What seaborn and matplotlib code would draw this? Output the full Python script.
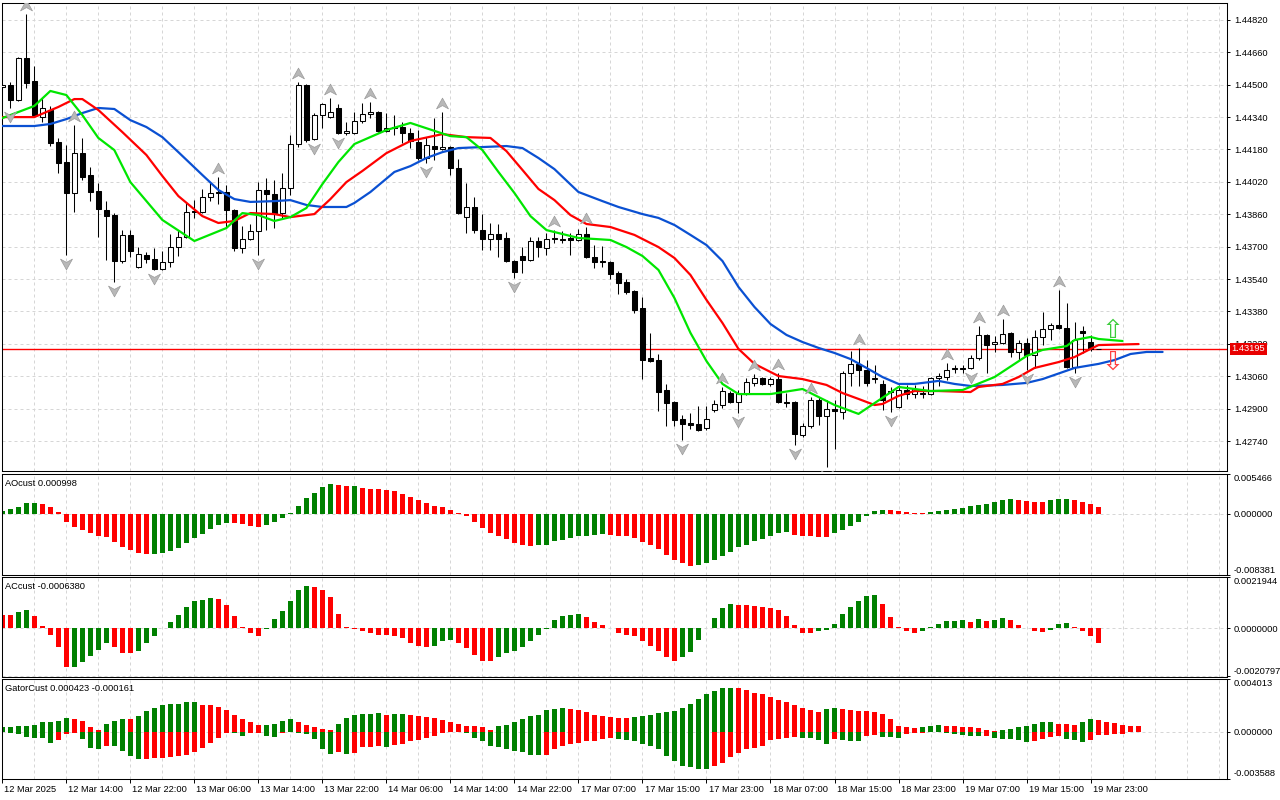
import numpy as np
import pandas as pd
import matplotlib
matplotlib.use("Agg")
import matplotlib.pyplot as plt
import matplotlib.transforms as mtransforms
from matplotlib.path import Path
from matplotlib.ticker import FixedLocator, MultipleLocator
import seaborn as sns

# hourly candles, 12 Mar 2025 06:00 -> 20 Mar 00:00
opens = [1.44488, 1.44498, 1.44424, 1.44632, 1.44518, 1.44340, 1.44375, 1.44217, 1.44118, 1.43965,
         1.44162, 1.44054, 1.43975, 1.43881, 1.43856, 1.43629, 1.43758, 1.43600, 1.43659, 1.43639,
         1.43590, 1.43624, 1.43698, 1.43748, 1.43876, 1.43871, 1.43945, 1.43970, 1.43970, 1.43881,
         1.43693, 1.43738, 1.43777, 1.43980, 1.43960, 1.43866, 1.43990, 1.44207, 1.44498, 1.44232,
         1.44350, 1.44340, 1.44385, 1.44261, 1.44261, 1.44320, 1.44355, 1.44365, 1.44271, 1.44291,
         1.44291, 1.44261, 1.44217, 1.44138, 1.44197, 1.44182, 1.44192, 1.44088, 1.43846, 1.43896,
         1.43782, 1.43738, 1.43763, 1.43743, 1.43629, 1.43654, 1.43634, 1.43728, 1.43693, 1.43743,
         1.43738, 1.43743, 1.43733, 1.43763, 1.43649, 1.43629, 1.43624, 1.43570, 1.43525, 1.43481,
         1.43397, 1.43150, 1.43140, 1.42992, 1.42933, 1.42849, 1.42829, 1.42824, 1.42805, 1.42893,
         1.42918, 1.42977, 1.42933, 1.42972, 1.43027, 1.43051, 1.43022, 1.43046, 1.42933, 1.42933,
         1.42770, 1.42814, 1.42943, 1.42864, 1.42898, 1.42884, 1.43076, 1.43121, 1.43091, 1.43046,
         1.43022, 1.42987, 1.42908, 1.42992, 1.42972, 1.42977, 1.42972, 1.43051, 1.43056, 1.43101,
         1.43101, 1.43101, 1.43150, 1.43264, 1.43219, 1.43224, 1.43274, 1.43180, 1.43224, 1.43165,
         1.43254, 1.43293, 1.43313, 1.43298, 1.43106, 1.43284, 1.43229, 1.43195]
highs = [1.44508, 1.44513, 1.44637, 1.44849, 1.44592, 1.44434, 1.44395, 1.44237, 1.44202, 1.44301,
         1.44237, 1.44093, 1.44014, 1.43925, 1.43866, 1.43782, 1.43782, 1.43698, 1.43674, 1.43693,
         1.43679, 1.43763, 1.43782, 1.43921, 1.43930, 1.43985, 1.44019, 1.44044, 1.44004, 1.43886,
         1.43802, 1.43812, 1.44019, 1.44039, 1.44029, 1.44064, 1.44251, 1.44513, 1.44503, 1.44360,
         1.44409, 1.44434, 1.44404, 1.44316, 1.44365, 1.44409, 1.44414, 1.44370, 1.44360, 1.44350,
         1.44316, 1.44286, 1.44276, 1.44241, 1.44335, 1.44365, 1.44197, 1.44133, 1.44014, 1.43945,
         1.43861, 1.43817, 1.43812, 1.43772, 1.43634, 1.43698, 1.43748, 1.43748, 1.43767, 1.43782,
         1.43777, 1.43767, 1.43787, 1.43797, 1.43708, 1.43703, 1.43629, 1.43580, 1.43540, 1.43486,
         1.43451, 1.43274, 1.43170, 1.43022, 1.42938, 1.42869, 1.42879, 1.42913, 1.42913, 1.42943,
         1.43007, 1.42987, 1.42992, 1.43051, 1.43071, 1.43056, 1.43056, 1.43076, 1.42977, 1.42938,
         1.42829, 1.42958, 1.42958, 1.42943, 1.42943, 1.43086, 1.43185, 1.43200, 1.43140, 1.43116,
         1.43042, 1.43007, 1.43017, 1.43017, 1.43017, 1.43012, 1.43056, 1.43076, 1.43126, 1.43116,
         1.43116, 1.43165, 1.43308, 1.43269, 1.43259, 1.43343, 1.43279, 1.43239, 1.43249, 1.43288,
         1.43377, 1.43323, 1.43486, 1.43422, 1.43328, 1.43308, 1.43264, 1.43195]
lows = [1.44483, 1.44385, 1.44419, 1.44483, 1.44340, 1.44316, 1.44197, 1.44064, 1.43659, 1.43871,
        1.44029, 1.43925, 1.43748, 1.43634, 1.43525, 1.43619, 1.43649, 1.43595, 1.43619, 1.43585,
        1.43585, 1.43600, 1.43654, 1.43743, 1.43842, 1.43866, 1.43925, 1.43911, 1.43797, 1.43679,
        1.43669, 1.43733, 1.43659, 1.43782, 1.43792, 1.43842, 1.43955, 1.44192, 1.44217, 1.44227,
        1.44286, 1.44335, 1.44256, 1.44251, 1.44256, 1.44311, 1.44335, 1.44266, 1.44266, 1.44251,
        1.44212, 1.44187, 1.44128, 1.44113, 1.44128, 1.44177, 1.44054, 1.43861, 1.43767, 1.43767,
        1.43683, 1.43683, 1.43649, 1.43624, 1.43545, 1.43570, 1.43629, 1.43649, 1.43659, 1.43718,
        1.43718, 1.43659, 1.43728, 1.43644, 1.43595, 1.43600, 1.43540, 1.43466, 1.43466, 1.43372,
        1.43046, 1.43130, 1.42888, 1.42814, 1.42814, 1.42745, 1.42800, 1.42790, 1.42795, 1.42884,
        1.42903, 1.42928, 1.42879, 1.42967, 1.43012, 1.43017, 1.43012, 1.42928, 1.42908, 1.42721,
        1.42760, 1.42805, 1.42819, 1.42612, 1.42701, 1.42849, 1.43012, 1.43012, 1.43012, 1.43027,
        1.42893, 1.42884, 1.42903, 1.42948, 1.42953, 1.42953, 1.42967, 1.43012, 1.43042, 1.43076,
        1.43076, 1.43096, 1.43140, 1.43076, 1.43180, 1.43219, 1.43155, 1.43140, 1.43091, 1.43101,
        1.43214, 1.43239, 1.43293, 1.43101, 1.43076, 1.43175, 1.43185, 1.43195]
closes = [1.44498, 1.44424, 1.44632, 1.44508, 1.44350, 1.44385, 1.44212, 1.44113, 1.43965, 1.44162,
          1.44044, 1.43970, 1.43886, 1.43851, 1.43629, 1.43758, 1.43679, 1.43664, 1.43639, 1.43590,
          1.43624, 1.43698, 1.43748, 1.43871, 1.43871, 1.43945, 1.43965, 1.43965, 1.43881, 1.43693,
          1.43738, 1.43777, 1.43980, 1.43960, 1.43866, 1.43990, 1.44207, 1.44498, 1.44227, 1.44350,
          1.44404, 1.44365, 1.44261, 1.44271, 1.44320, 1.44355, 1.44365, 1.44271, 1.44286, 1.44286,
          1.44261, 1.44222, 1.44138, 1.44202, 1.44182, 1.44192, 1.44088, 1.43866, 1.43896, 1.43782,
          1.43738, 1.43763, 1.43738, 1.43629, 1.43575, 1.43634, 1.43728, 1.43698, 1.43738, 1.43738,
          1.43733, 1.43733, 1.43763, 1.43649, 1.43624, 1.43624, 1.43565, 1.43521, 1.43476, 1.43387,
          1.43140, 1.43135, 1.42982, 1.42928, 1.42844, 1.42824, 1.42819, 1.42795, 1.42849, 1.42923,
          1.42987, 1.42933, 1.42977, 1.43032, 1.43051, 1.43022, 1.43046, 1.42933, 1.42928, 1.42775,
          1.42814, 1.42943, 1.42864, 1.42898, 1.42888, 1.43076, 1.43121, 1.43091, 1.43027, 1.43051,
          1.42943, 1.42982, 1.42992, 1.42972, 1.42997, 1.42972, 1.43051, 1.43061, 1.43091, 1.43096,
          1.43096, 1.43150, 1.43264, 1.43214, 1.43229, 1.43269, 1.43180, 1.43224, 1.43165, 1.43254,
          1.43293, 1.43313, 1.43298, 1.43106, 1.43239, 1.43274, 1.43195, 1.43195]
bid = 1.43195

# alligator lines (bar index where read, value)
lips_bar = [0, 4, 6, 8, 10, 12, 14, 16, 20, 24, 28, 30, 32, 34, 36, 38, 40, 42, 44, 48, 51, 56, 58,
            60, 62, 64, 66, 68, 72, 76, 78, 80, 82, 84, 86, 88, 90, 92, 96, 100, 104, 107, 112,
            116, 120, 124, 128, 130, 133, 134, 136, 137, 140]
lips = [1.44335, 1.44395, 1.44469, 1.44449, 1.44350, 1.44237, 1.44177, 1.44019, 1.43832, 1.43728,
        1.43792, 1.43866, 1.43856, 1.43827, 1.43846, 1.43891, 1.44009, 1.44118, 1.44207, 1.44276,
        1.44311, 1.44246, 1.44241, 1.44177, 1.44069, 1.43965, 1.43851, 1.43782, 1.43743, 1.43733,
        1.43698, 1.43654, 1.43585, 1.43446, 1.43274, 1.43135, 1.43022, 1.42972, 1.42972, 1.42997,
        1.42918, 1.42874, 1.43007, 1.42987, 1.42992, 1.43056, 1.43160, 1.43190, 1.43209, 1.43239,
        1.43254, 1.43244, 1.43234]
teeth_bar = [0, 4, 7, 9, 10, 12, 15, 18, 20, 22, 25, 27, 29, 31, 34, 36, 39, 41, 43, 45, 48, 51,
             55, 58, 61, 63, 65, 67, 69, 71, 73, 76, 79, 82, 84, 86, 88, 90, 92, 94, 97, 100, 103,
             105, 107, 109, 110, 112, 114, 117, 121, 122, 125, 127, 129, 132, 134, 136, 137, 142]
teeth = [1.44340, 1.44340, 1.44390, 1.44429, 1.44429, 1.44375, 1.44266, 1.44153, 1.44049, 1.43950,
         1.43851, 1.43817, 1.43827, 1.43866, 1.43861, 1.43846, 1.43861, 1.43935, 1.44019, 1.44074,
         1.44162, 1.44222, 1.44256, 1.44241, 1.44237, 1.44172, 1.44079, 1.43985, 1.43930, 1.43856,
         1.43812, 1.43797, 1.43758, 1.43698, 1.43644, 1.43560, 1.43437, 1.43323, 1.43195, 1.43121,
         1.43061, 1.43046, 1.43017, 1.42977, 1.42948, 1.42918, 1.42923, 1.42963, 1.42987, 1.42987,
         1.42982, 1.43007, 1.43022, 1.43056, 1.43101, 1.43130, 1.43155, 1.43195, 1.43214, 1.43219]
jaw_bar = [0, 4, 6, 8, 10, 12, 14, 16, 18, 20, 22, 25, 27, 29, 31, 34, 36, 38, 40, 43, 44, 46, 49,
           51, 53, 55, 57, 60, 63, 65, 67, 69, 72, 75, 77, 80, 82, 84, 86, 88, 90, 92, 94, 96, 98,
           100, 102, 104, 106, 108, 110, 112, 114, 117, 119, 121, 125, 128, 130, 134, 137, 139,
           141, 143, 145]
jaw = [1.44296, 1.44296, 1.44306, 1.44330, 1.44360, 1.44385, 1.44380, 1.44325, 1.44291, 1.44241,
       1.44167, 1.44054, 1.43980, 1.43935, 1.43921, 1.43925, 1.43930, 1.43906, 1.43896, 1.43896,
       1.43916, 1.43970, 1.44069, 1.44098, 1.44138, 1.44167, 1.44187, 1.44192, 1.44197, 1.44187,
       1.44138, 1.44083, 1.43970, 1.43925, 1.43896, 1.43861, 1.43842, 1.43807, 1.43758, 1.43708,
       1.43629, 1.43501, 1.43402, 1.43318, 1.43264, 1.43229, 1.43200, 1.43175, 1.43145, 1.43101,
       1.43056, 1.43022, 1.43022, 1.43037, 1.43022, 1.43012, 1.43017, 1.43027, 1.43046, 1.43101,
       1.43121, 1.43140, 1.43170, 1.43180, 1.43180]

up_fractals = [3, 9, 27, 37, 41, 46, 55, 69, 73, 90, 94, 97, 101, 107, 118, 122, 125, 132]
down_fractals = [1, 8, 14, 19, 32, 39, 42, 53, 64, 85, 92, 99, 103, 111, 121, 128, 134]

# oscillators, in units of 1e-5
ao_1e5 = [37, 69, 96, 151, 152, 133, 96, 27, -114, -183,
          -215, -260, -306, -320, -384, -452, -489, -535, -548, -544,
          -535, -512, -466, -398, -329, -274, -206, -151, -123, -128,
          -137, -169, -178, -146, -110, -55, 14, 114, 215, 288,
          366, 407, 393, 379, 384, 356, 347, 338, 324, 315,
          274, 229, 187, 151, 105, 91, 59, 14, -32, -114,
          -192, -260, -306, -343, -398, -420, -434, -430, -420, -375,
          -352, -329, -306, -297, -283, -274, -283, -297, -306, -334,
          -379, -420, -480, -558, -626, -676, -708, -704, -676, -631,
          -571, -516, -457, -420, -375, -343, -297, -265, -251, -283,
          -297, -306, -311, -315, -265, -219, -160, -114, -23, 46,
          59, 55, 46, 27, 18, 14, 23, 41, 55, 69,
          87, 105, 128, 142, 165, 187, 197, 187, 178, 169,
          165, 192, 197, 201, 187, 169, 142, 99.8]
ao_colors = ("G" * 5 + "R" * 14 + "G" * 10 + "R" * 4 + "G" * 9 + "R" * 2 + "G" + "R" * 22
             + "G" * 9 + "R" * 11 + "G" * 12 + "R" * 5 + "G" * 7 + "R" * 5 + "G" * 11 + "R" * 4
             + "G" * 3 + "R" * 4)

ac_1e5 = [56, 57, 67, 79, 53, 10, -29, -80, -169, -168,
          -147, -119, -93, -62, -83, -105, -109, -97, -66, -33,
          -1, 27, 57, 92, 115, 122, 130, 126, 100, 53,
          6, -23, -33, -4, 37, 74, 115, 165, 182, 178,
          165, 135, 60, 6, -4, -11, -23, -29, -30, -33,
          -43, -66, -79, -83, -79, -57, -52, -62, -87, -115,
          -140, -143, -126, -105, -100, -80, -57, -29, -4, 36,
          53, 57, 60, 49, 27, 13, -1, -19, -29, -33,
          -57, -76, -97, -126, -140, -126, -102, -50, 1, 44,
          87, 105, 100, 99, 97, 90, 87, 76, 53, 14,
          -19, -23, -14, -10, 19, 62, 92, 115, 139, 140,
          105, 49, 4, -14, -23, -11, 6, 19, 30, 32,
          33, 27, 37, 32, 33, 42, 36, 14, -1, -14,
          -16, -7, 19, 20, 6, -14, -33, -63.8]
ac_colors = ("R" * 2 + "G" * 2 + "R" * 5 + "G" * 5 + "R" * 3 + "G" * 10 + "R" * 6 + "G" * 6
             + "R" * 15 + "G" * 3 + "R" * 5 + "G" * 11 + "R" * 12 + "G" * 7 + "R" * 10 + "G" * 8
             + "R" * 5 + "G" * 6 + "R" + "G" + "R" + "G" * 2 + "R" * 5 + "G" * 3 + "R" * 4)

gator_up_1e5 = [38, 38, 41, 46, 53, 69, 71, 84, 102, 99,
                79, 38, 8, 61, 84, 94, 92, 117, 155, 181,
                206, 209, 214, 222, 224, 206, 204, 191, 163, 127,
                99, 69, 51, 53, 61, 84, 92, 69, 53, 38,
                23, 8, 61, 107, 130, 132, 137, 145, 130, 132,
                135, 130, 122, 109, 102, 89, 76, 61, 46, 45,
                38, 8, 46, 48, 76, 99, 115, 130, 163, 171,
                176, 175, 163, 148, 130, 122, 109, 107, 104, 112,
                117, 127, 140, 150, 155, 183, 214, 250, 290, 313,
                334, 336, 334, 316, 298, 283, 260, 242, 224, 201,
                176, 168, 153, 171, 176, 173, 163, 160, 155, 148,
                135, 97, 41, 38, 28, 38, 46, 53, 46, 43,
                36, 31, 25, 8, 5, 15, 18, 33, 46, 61,
                69, 71, 61, 56, 53, 69, 94, 87, 69, 66,
                53, 46, 42.3]
gator_up_colors = ("G" * 9 + "R" * 4 + "G" * 3 + "R" + "G" * 8 + "R" * 8 + "G" * 4 + "R" * 5
                   + "G" * 6 + "R" + "G" * 2 + "R" * 11 + "G" * 9 + "R" * 8 + "G" * 13 + "R" * 11
                   + "G" * 2 + "R" * 10 + "G" * 3 + "R" * 7 + "G" * 7 + "R" * 3 + "G" * 2 + "R" * 6)
gator_dn_1e5 = [0, -10, -20, -43, -46, -51, -89, -66, -20, -10,
                -56, -127, -135, -107, -112, -150, -188, -211, -209, -204,
                -201, -191, -188, -176, -153, -125, -84, -46, -10, -13,
                -31, -10, -8, -36, -38, -10, -5, -13, -20, -56,
                -137, -173, -160, -168, -165, -120, -115, -112, -115, -102,
                -97, -76, -64, -51, -31, -10, -5, -6, -10, -46,
                -76, -107, -120, -137, -150, -158, -176, -183, -181, -137,
                -112, -94, -89, -74, -73, -56, -51, -59, -64, -74,
                -94, -107, -137, -188, -227, -265, -272, -285, -290, -260,
                -239, -196, -163, -137, -127, -107, -66, -56, -46, -43,
                -46, -51, -66, -94, -56, -61, -74, -76, -36, -25,
                -41, -43, -46, -20, -13, -8, -3, -5, -13, -20,
                -25, -33, -36, -33, -46, -56, -59, -64, -81, -71,
                -56, -38, -33, -56, -64, -81, -64, -25, -25, -20,
                -16.1]
gator_dn_colors = ("G" * 7 + "R" * 3 + "G" * 3 + "R" + "G" * 4 + "R" * 11 + "G" * 2 + "R" * 2
                   + "G" * 2 + "R" * 2 + "G" * 5 + "R" + "G" + "R" * 4 + "G" + "R" * 8 + "G" * 11
                   + "R" * 9 + "G" * 12 + "R" * 11 + "G" * 4 + "R" + "G" * 3 + "R" * 2 + "G" * 3
                   + "R" * 4 + "G" * 6 + "R" + "G" * 5 + "R" * 4 + "G" * 3 + "R" * 5)

label_bars = list(range(0, 137, 8))
x_labels = ["12 Mar 2025", "12 Mar 14:00", "12 Mar 22:00", "13 Mar 06:00", "13 Mar 14:00",
            "13 Mar 22:00", "14 Mar 06:00", "14 Mar 14:00", "14 Mar 22:00", "17 Mar 07:00",
            "17 Mar 15:00", "17 Mar 23:00", "18 Mar 07:00", "18 Mar 15:00", "18 Mar 23:00",
            "19 Mar 07:00", "19 Mar 15:00", "19 Mar 23:00"]
price_ticks = [1.42740, 1.42900, 1.43060, 1.43220, 1.43380, 1.43540, 1.43700,
               1.43860, 1.44020, 1.44180, 1.44340, 1.44500, 1.44660, 1.44820]

sns.set_theme(style="white")
plt.rcParams["font.family"] = ["Liberation Sans", "DejaVu Sans"]
plt.rcParams["axes.unicode_minus"] = False

FS = 6.7
GRID = "#d6d6d6"
BAR_G, BAR_R = "#008000", "#ff0000"
LIPS_C, TEETH_C, JAW_C = "#00e600", "#ff0000", "#0a50d2"

fig = plt.figure(figsize=(12.8, 8), dpi=100)
fig.patch.set_facecolor("white")


def panel(top, bottom):
    # pixel rows -> figure fraction
    return fig.add_axes([2 / 1280, 1 - bottom / 800, 1225 / 1280, (bottom - top) / 800])


ax = panel(2.5, 471)
ax_ao = panel(474, 575)
ax_ac = panel(577, 676.5)
ax_gt = panel(679, 778.5)
panels = [ax, ax_ao, ax_ac, ax_gt]

# --- candles ---
df = pd.DataFrame({"open": opens, "high": highs, "low": lows, "close": closes})
df["bar"] = np.arange(len(df))
bull = df["close"] > df["open"]
ax.vlines(df["bar"], df["low"], df["high"], color="black", lw=0.75, zorder=3)
ax.bar(df["bar"], (df["close"] - df["open"]).abs(), bottom=df[["open", "close"]].min(axis=1),
       width=0.62, color=np.where(bull, "white", "black"), edgecolor="black", linewidth=0.75, zorder=4)

# bid line
ax.plot([-1, 160], [bid, bid], color="#ff0000", lw=1.0, zorder=2.5, solid_capstyle="butt")

# --- alligator ---
for xs, ys, col in [(jaw_bar, jaw, JAW_C), (teeth_bar, teeth, TEETH_C), (lips_bar, lips, LIPS_C)]:
    sns.lineplot(x=xs, y=ys, color=col, linewidth=1.6, ax=ax, zorder=6)

# --- fractals ---
codes = [Path.MOVETO, Path.LINETO, Path.LINETO, Path.LINETO, Path.CLOSEPOLY]
up_marker = Path([(0, 0.9), (1, -0.9), (0, -0.35), (-1, -0.9), (0, 0.9)], codes)
dn_marker = Path([(0, -0.9), (1, 0.9), (0, 0.35), (-1, 0.9), (0, -0.9)], codes)
tr_up = mtransforms.offset_copy(ax.transData, fig=fig, y=6.5, units="points")
tr_dn = mtransforms.offset_copy(ax.transData, fig=fig, y=-6.5, units="points")
ax.plot(up_fractals, df["high"].iloc[up_fractals], ls="none", marker=up_marker, ms=8.6,
        mfc="#b8b8b8", mec="#9a9a9a", mew=0.5, transform=tr_up, zorder=7)
ax.plot(down_fractals, df["low"].iloc[down_fractals], ls="none", marker=dn_marker, ms=8.6,
        mfc="#b8b8b8", mec="#9a9a9a", mew=0.5, transform=tr_dn, zorder=7)

# alligator direction arrows and bid label
last = len(df) - 1
ax.annotate("\u21e7", xy=(last + 1.8, lips[-1]), xytext=(0, 7.5), textcoords="offset points",
            ha="center", va="center", fontsize=19, color="#3ccc3c", family="DejaVu Sans", zorder=8)
ax.annotate("\u21e9", xy=(last + 1.8, teeth[-1]), xytext=(0, -13.5), textcoords="offset points",
            ha="center", va="center", fontsize=19, color="#ff4040", family="DejaVu Sans", zorder=8)
ax.annotate(f"{bid:.5f}", xy=(1, bid), xycoords=("axes fraction", "data"), xytext=(3.2, 0),
            textcoords="offset points", ha="left", va="center", fontsize=FS, color="white",
            bbox=dict(boxstyle="square,pad=0.2", fc="#e80000", ec="none"),
            annotation_clip=False, zorder=10)


# --- oscillators ---
def histo(a, vals, cols, width=0.56):
    vals = np.asarray(vals, dtype=float) * 1e-5
    cols = (cols + "R" * len(vals))[:len(vals)]
    sns.barplot(x=np.arange(len(vals)), y=vals, hue=list(cols),
                palette={"G": BAR_G, "R": BAR_R}, native_scale=True, dodge=False,
                width=width, errorbar=None, saturation=1, legend=False,
                edgecolor="none", ax=a)
    return vals


ao = histo(ax_ao, ao_1e5, ao_colors)
ac = histo(ax_ac, ac_1e5, ac_colors)
g_up = histo(ax_gt, gator_up_1e5, gator_up_colors)
g_dn = histo(ax_gt, gator_dn_1e5, gator_dn_colors)

# --- axes styling ---
for a in panels:
    a.set_xlabel("")
    a.set_ylabel("")
    a.set_facecolor("white")
    a.set_xlim(-0.04, 153.05)
    a.xaxis.set_major_locator(FixedLocator(label_bars))
    a.xaxis.set_minor_locator(MultipleLocator(4))
    a.grid(True, axis="x", which="both", color=GRID, ls=(0, (3, 3)), lw=0.72)
    a.grid(True, axis="y", which="major", color=GRID, ls=(0, (3, 3)), lw=0.72)
    a.set_axisbelow(True)
    a.yaxis.tick_right()
    a.tick_params(axis="y", which="major", direction="out", length=2.5, width=0.7, pad=2.5,
                  labelsize=FS, colors="black", right=True, left=False)
    a.tick_params(axis="x", which="minor", length=0)
    for s in a.spines.values():
        s.set_visible(True)
        s.set_color("black")
        s.set_linewidth(0.75)

for a in panels[:-1]:
    a.tick_params(axis="x", which="major", length=0, labelbottom=False)

ax.set_ylim(1.42592, 1.44906)
ax.set_yticks(price_ticks)
ax.set_yticklabels([f"{v:.5f}" for v in price_ticks])


def scale(a, lo, hi, fmt):
    a.set_ylim(lo, hi)
    a.set_yticks([lo, 0.0, hi])
    a.set_yticklabels([fmt.format(lo), fmt.format(0.0), fmt.format(hi)])
    t = a.yaxis.get_major_ticks()
    t[0].label2.set_va("bottom")
    t[2].label2.set_va("top")


scale(ax_ao, -0.008381, 0.005466, "{:.6f}")
scale(ax_ac, -0.0020797, 0.0021944, "{:.7f}")
scale(ax_gt, -0.003588, 0.004013, "{:.6f}")

for a, txt in [(ax_ao, f"AOcust {ao[-1]:.6f}"), (ax_ac, f"ACcust {ac[-1]:.7f}"),
               (ax_gt, f"GatorCust {g_up[-1]:.6f} {g_dn[-1]:.6f}")]:
    a.annotate(txt, xy=(0, 1), xycoords="axes fraction", xytext=(2, -6.5),
               textcoords="offset points", ha="left", va="center", fontsize=FS, color="black")

ax_gt.set_xticks(label_bars)
ax_gt.set_xticklabels(x_labels)
ax_gt.tick_params(axis="x", which="major", direction="out", length=3, width=0.7, pad=1.5,
                  labelsize=FS, colors="black", bottom=True)
shift = mtransforms.ScaledTranslation(1.5 / 72, 0, fig.dpi_scale_trans)
for lab in ax_gt.get_xticklabels():
    lab.set_ha("left")
    lab.set_transform(lab.get_transform() + shift)

fig.savefig("out.png", dpi=100, facecolor="white")
